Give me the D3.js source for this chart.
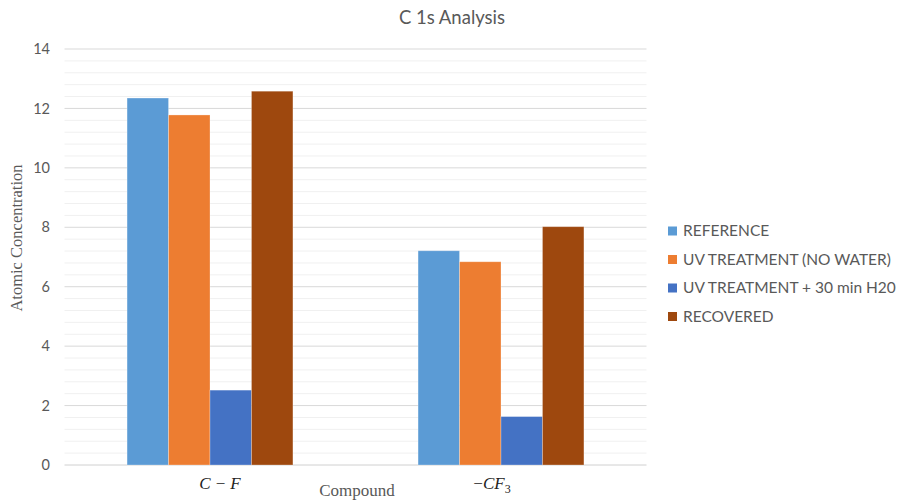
<!DOCTYPE html>
<html><head><meta charset="utf-8">
<script src="https://cdn.jsdelivr.net/npm/d3@7"></script>
<style>body{margin:0;background:#fff}</style>
</head><body>
<svg id="c" width="902" height="504"></svg>
<script>
const categories = ["C-F", "CF3"];
const seriesNames = ["REFERENCE", "UV TREATMENT (NO WATER)", "UV TREATMENT + 30 min H20", "RECOVERED"];
const reference = [12.35, 7.21];
const uvNoWater = [11.78, 6.84];
const uvWater30 = [2.52, 1.63];
const recovered = [12.58, 8.02];
const colors = ["#5B9BD5", "#ED7D31", "#4472C4", "#9E480E"];
const yTicks = [0, 2, 4, 6, 8, 10, 12, 14];

const seriesValues = [reference, uvNoWater, uvWater30, recovered];
const svg = d3.select("#c");
const m = {l: 64.5, r: 646.5, t: 49, b: 465};
const font = "Lato, 'Open Sans', sans-serif";
const serif = "'Liberation Serif', serif";
const gray = "#595959";

const y = d3.scaleLinear().domain([0, 14]).range([m.b, m.t]);
const x0 = d3.scaleBand().domain(categories).range([m.l, m.r]).paddingInner(0.43).paddingOuter(0.215);
const x1 = d3.scaleBand().domain(seriesNames).range([0, x0.bandwidth()]);

// minor gridlines
const minor = d3.range(0, 14.0001, 0.4).filter(v => Math.abs(v/2 - Math.round(v/2)) > 1e-6);
svg.append("g").selectAll("line").data(minor).join("line")
  .attr("x1", m.l).attr("x2", m.r).attr("y1", d => y(d)).attr("y2", d => y(d))
  .attr("stroke", "#f0f0f0").attr("stroke-width", 1);
// major gridlines
svg.append("g").selectAll("line").data(yTicks).join("line")
  .attr("x1", m.l).attr("x2", m.r).attr("y1", d => y(d)).attr("y2", d => y(d))
  .attr("stroke", d => d === 0 ? "#d0d0d0" : "#d9d9d9").attr("stroke-width", 1);

// y tick labels
svg.append("g").selectAll("text").data(yTicks).join("text")
  .attr("x", 50).attr("y", d => y(d)).attr("dy", "0.35em").attr("text-anchor", "end")
  .attr("font-family", font).attr("font-size", 14.5).attr("fill", gray).text(d => d);

// bars
const g = svg.append("g");
categories.forEach((c, ci) => {
  seriesNames.forEach((s, si) => {
    const v = seriesValues[si][ci];
    g.append("rect")
      .attr("x", x0(c) + x1(s)).attr("width", x1.bandwidth())
      .attr("y", y(v)).attr("height", y(0) - y(v))
      .attr("fill", colors[si]).attr("stroke", "#ffffff").attr("stroke-opacity", 0.35).attr("stroke-width", 0.8);
  });
});

// category labels (math style)
const catG = svg.append("g").attr("font-family", serif).attr("font-size", 17).attr("fill", "#222");
const cfx = x0("C-F") + x0.bandwidth()/2 + 10;
const t1 = catG.append("text").attr("x", cfx).attr("y", 489).attr("text-anchor", "middle");
t1.append("tspan").attr("font-style", "italic").text("C");
t1.append("tspan").attr("dx", 5).text("−");
t1.append("tspan").attr("dx", 5).attr("font-style", "italic").text("F");
const cf3x = x0("CF3") + x0.bandwidth()/2 - 9;
const t2 = catG.append("text").attr("x", cf3x).attr("y", 489).attr("text-anchor", "middle");
t2.append("tspan").text("−");
t2.append("tspan").attr("font-style", "italic").text("CF");
t2.append("tspan").attr("font-size", 12).attr("dy", 4).text("3");

// axis titles
svg.append("text").attr("x", 357).attr("y", 496).attr("text-anchor", "middle")
  .attr("font-family", serif).attr("font-size", 17).attr("fill", gray).text("Compound");
svg.append("text").attr("transform", `translate(22,${(m.t+m.b)/2 - 19}) rotate(-90)`).attr("text-anchor", "middle")
  .attr("font-family", serif).attr("font-size", 16.5).attr("fill", gray).text("Atomic Concentration");

// title
svg.append("text").attr("x", 452).attr("y", 24).attr("text-anchor", "middle")
  .attr("font-family", font).attr("font-size", 18.5).attr("fill", gray).text("C 1s Analysis");

// legend
const lg = svg.append("g").attr("transform", "translate(668,231)");
seriesNames.forEach((s, i) => {
  const row = lg.append("g").attr("transform", `translate(0,${i*28.5})`);
  row.append("rect").attr("x", 0).attr("y", -4.5).attr("width", 9).attr("height", 9).attr("fill", colors[i]);
  row.append("text").attr("x", 15).attr("y", 0).attr("dy", "0.35em")
    .attr("font-family", font).attr("font-size", 15.5).attr("fill", gray).text(s);
});
</script>
</body></html>
